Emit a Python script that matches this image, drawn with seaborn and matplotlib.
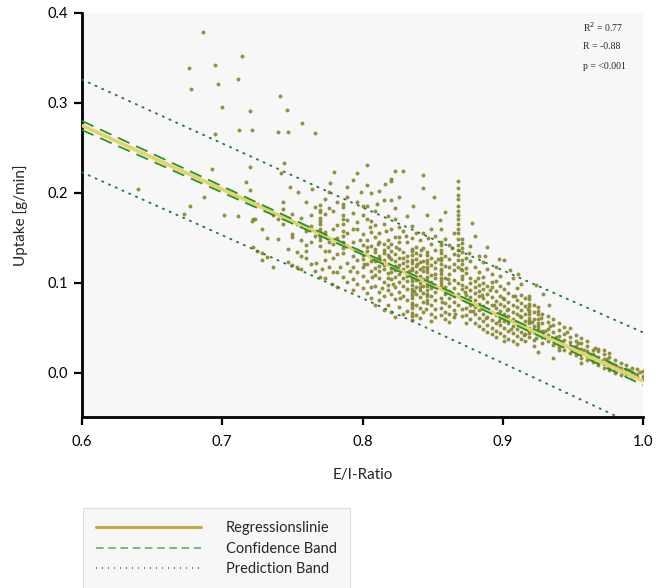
import matplotlib
matplotlib.use("Agg")
import matplotlib.pyplot as plt
from matplotlib.lines import Line2D
import seaborn as sns
import pandas as pd

# --- scattered measurements far above the fit ---
sparse_x = [0.686, 0.676, 0.678, 0.695, 0.714, 0.697, 0.711, 0.700, 0.720, 0.741,
            0.746, 0.757, 0.712, 0.721, 0.740, 0.747, 0.766, 0.695, 0.744, 0.720,
            0.693, 0.742, 0.780, 0.717, 0.720, 0.748, 0.754, 0.764, 0.777, 0.640,
            0.687, 0.677, 0.701, 0.711, 0.721, 0.723, 0.673]
sparse_y = [0.379, 0.339, 0.316, 0.342, 0.352, 0.321, 0.327, 0.296, 0.291, 0.308,
            0.292, 0.278, 0.270, 0.270, 0.268, 0.268, 0.267, 0.265, 0.233, 0.229,
            0.227, 0.222, 0.223, 0.212, 0.203, 0.207, 0.201, 0.204, 0.211, 0.204,
            0.195, 0.185, 0.176, 0.174, 0.169, 0.171, 0.177]

# --- loose measurements between the repeated-ratio columns ---
loose_x = [0.784, 0.791, 0.798, 0.801, 0.805, 0.807, 0.811, 0.814, 0.817, 0.819,
           0.822, 0.824, 0.827, 0.831, 0.833, 0.837, 0.839, 0.842, 0.845, 0.847,
           0.851, 0.854, 0.857, 0.861, 0.864, 0.866, 0.870, 0.873, 0.876, 0.879,
           0.882, 0.885, 0.888, 0.891, 0.894, 0.897, 0.900, 0.903, 0.906, 0.909,
           0.912, 0.915, 0.918, 0.921, 0.924, 0.927, 0.930, 0.934, 0.938, 0.942,
           0.946, 0.950, 0.954, 0.958, 0.962, 0.966, 0.970, 0.974, 0.978, 0.982,
           0.986, 0.990, 0.994, 0.998, 0.760, 0.767, 0.771, 0.775, 0.778, 0.794,
           0.799, 0.810, 0.816, 0.826, 0.836, 0.846, 0.851, 0.855, 0.878, 0.887,
           0.897, 0.905, 0.911, 0.924, 0.929, 0.933]
loose_y = [0.118, 0.113, 0.148, 0.121, 0.162, 0.107, 0.143, 0.094, 0.158, 0.129,
           0.099, 0.140, 0.083, 0.152, 0.113, 0.091, 0.121, 0.137, 0.071, 0.150,
           0.097, 0.127, 0.079, 0.104, 0.139, 0.066, 0.115, 0.090, 0.133, 0.069,
           0.105, 0.087, 0.061, 0.092, 0.075, 0.058, 0.083, 0.070, 0.049, 0.086,
           0.063, 0.042, 0.071, 0.057, 0.039, 0.061, 0.047, 0.052, 0.040, 0.034,
           0.045, 0.027, 0.033, 0.026, 0.021, 0.028, 0.013, 0.016, 0.010, 0.007,
           0.001, 0.003, -0.002, 0.001, 0.135, 0.122, 0.116, 0.150, 0.099, 0.138,
           0.201, 0.188, 0.210, 0.196, 0.185, 0.176, 0.196, 0.170, 0.167, 0.130,
           0.127, 0.114, 0.110, 0.098, 0.088, 0.076]

# --- main cloud, grouped by E/I-Ratio value ---
col_x = [0.722, 0.725, 0.728, 0.732, 0.736, 0.740, 0.743, 0.747, 0.750, 0.753,
         0.756, 0.760, 0.763, 0.766, 0.770, 0.773, 0.776, 0.779, 0.782, 0.786,
         0.789, 0.793, 0.796, 0.800, 0.803, 0.806, 0.809, 0.812, 0.815, 0.818,
         0.820, 0.823, 0.826, 0.829, 0.832, 0.835, 0.838, 0.841, 0.843, 0.846,
         0.849, 0.852, 0.856, 0.859, 0.862, 0.865, 0.868, 0.871, 0.874, 0.877,
         0.880, 0.883, 0.886, 0.889, 0.892, 0.895, 0.898, 0.901, 0.904, 0.907,
         0.910, 0.913, 0.916, 0.919, 0.922, 0.925, 0.928, 0.932, 0.936, 0.940,
         0.944, 0.948, 0.952, 0.956, 0.960, 0.964, 0.968, 0.972, 0.976, 0.980,
         0.984, 0.988, 0.992, 0.996, 1.000]
col_y = [
    [0.171, 0.140],
    [0.136, 0.188],
    [0.133, 0.125, 0.160],
    [0.129, 0.150],
    [0.118, 0.176],
    [0.171, 0.149],
    [0.166, 0.182, 0.190],
    [0.123, 0.138],
    [0.177, 0.154, 0.151, 0.120],
    [0.118, 0.134, 0.165],
    [0.115, 0.130, 0.172, 0.148],
    [0.158, 0.128, 0.190, 0.142],
    [0.145, 0.121, 0.163, 0.175],
    [0.113, 0.152, 0.184],
    [0.187, 0.181, 0.179, 0.172, 0.169, 0.165, 0.160, 0.157, 0.151, 0.148, 0.141, 0.107],
    [0.193, 0.177, 0.157, 0.135, 0.106, 0.125],
    [0.183, 0.135, 0.146, 0.118, 0.201],
    [0.180, 0.143, 0.128, 0.160, 0.112],
    [0.164, 0.132, 0.112, 0.096, 0.150, 0.190],
    [0.188, 0.184, 0.176, 0.171, 0.166, 0.158, 0.152, 0.146, 0.139, 0.133, 0.107],
    [0.196, 0.207, 0.155, 0.122, 0.141, 0.170, 0.101],
    [0.214, 0.178, 0.160, 0.130, 0.118, 0.104, 0.145, 0.092],
    [0.222, 0.190, 0.160, 0.137, 0.112, 0.099, 0.168, 0.126],
    [0.185, 0.175, 0.142, 0.127, 0.118, 0.094, 0.154, 0.131, 0.108],
    [0.231, 0.209, 0.185, 0.171, 0.148, 0.135, 0.121, 0.102, 0.089, 0.140],
    [0.200, 0.169, 0.157, 0.141, 0.129, 0.113, 0.095, 0.083, 0.124],
    [0.180, 0.164, 0.151, 0.134, 0.124, 0.109, 0.097, 0.117, 0.138, 0.075],
    [0.202, 0.155, 0.146, 0.130, 0.119, 0.106, 0.090, 0.128, 0.113, 0.081],
    [0.166, 0.143, 0.137, 0.125, 0.115, 0.101, 0.086, 0.070, 0.120, 0.133, 0.192],
    [0.174, 0.148, 0.131, 0.121, 0.111, 0.098, 0.092, 0.076, 0.140, 0.105],
    [0.216, 0.213, 0.192, 0.160, 0.136, 0.127, 0.117, 0.104, 0.088, 0.068, 0.143, 0.112],
    [0.224, 0.183, 0.171, 0.151, 0.132, 0.124, 0.114, 0.095, 0.082, 0.062, 0.119, 0.107],
    [0.151, 0.138, 0.128, 0.120, 0.110, 0.101, 0.090, 0.073, 0.145, 0.162],
    [0.224, 0.158, 0.134, 0.122, 0.115, 0.106, 0.097, 0.086, 0.066, 0.128],
    [0.174, 0.146, 0.130, 0.119, 0.111, 0.102, 0.093, 0.081, 0.069, 0.124, 0.108],
    [0.138, 0.135, 0.131, 0.126, 0.122, 0.117, 0.114, 0.109, 0.106, 0.102, 0.098,
     0.093, 0.090, 0.087, 0.083, 0.078, 0.075, 0.072, 0.067, 0.063, 0.059, 0.163, 0.150],
    [0.155, 0.127, 0.119, 0.112, 0.103, 0.096, 0.088, 0.076, 0.064, 0.140, 0.133],
    [0.148, 0.131, 0.116, 0.108, 0.100, 0.092, 0.084, 0.072, 0.061, 0.123, 0.095],
    [0.220, 0.205, 0.155, 0.139, 0.124, 0.113, 0.104, 0.097, 0.089, 0.079, 0.068, 0.118],
    [0.134, 0.131, 0.126, 0.122, 0.118, 0.115, 0.112, 0.107, 0.103, 0.100, 0.097,
     0.092, 0.088, 0.085, 0.081, 0.078],
    [0.160, 0.143, 0.120, 0.109, 0.101, 0.094, 0.086, 0.075, 0.065, 0.058, 0.128],
    [0.152, 0.137, 0.117, 0.105, 0.098, 0.090, 0.081, 0.071, 0.062, 0.123, 0.110],
    [0.160, 0.145, 0.142, 0.137, 0.133, 0.128, 0.125, 0.121, 0.116, 0.113, 0.110,
     0.105, 0.102, 0.099, 0.096, 0.083, 0.072, 0.064],
    [0.179, 0.149, 0.119, 0.105, 0.095, 0.088, 0.078, 0.068, 0.060, 0.130],
    [0.142, 0.127, 0.110, 0.100, 0.091, 0.083, 0.074, 0.066, 0.057, 0.118],
    [0.155, 0.132, 0.114, 0.103, 0.094, 0.086, 0.079, 0.070, 0.062, 0.121],
    [0.213, 0.206, 0.198, 0.193, 0.186, 0.180, 0.176, 0.171, 0.165, 0.160, 0.155,
     0.149, 0.142, 0.137, 0.131, 0.125, 0.118, 0.100, 0.088, 0.075],
    [0.149, 0.144, 0.139, 0.134, 0.126, 0.121, 0.114, 0.108, 0.104, 0.098, 0.093,
     0.082, 0.071, 0.063],
    [0.128, 0.111, 0.096, 0.087, 0.080, 0.072, 0.064, 0.055, 0.117],
    [0.141, 0.124, 0.106, 0.092, 0.084, 0.076, 0.069, 0.060, 0.100],
    [0.152, 0.118, 0.102, 0.089, 0.081, 0.073, 0.065, 0.056, 0.095],
    [0.130, 0.112, 0.098, 0.086, 0.077, 0.070, 0.061, 0.052, 0.091],
    [0.123, 0.107, 0.093, 0.083, 0.074, 0.066, 0.058, 0.049, 0.100],
    [0.140, 0.115, 0.097, 0.088, 0.079, 0.071, 0.062, 0.053, 0.045],
    [0.110, 0.095, 0.084, 0.076, 0.068, 0.059, 0.050, 0.043, 0.101],
    [0.118, 0.102, 0.091, 0.080, 0.072, 0.064, 0.056, 0.047, 0.040],
    [0.097, 0.086, 0.077, 0.069, 0.061, 0.053, 0.044, 0.108],
    [0.125, 0.093, 0.082, 0.074, 0.066, 0.058, 0.050, 0.041, 0.035],
    [0.089, 0.079, 0.071, 0.063, 0.055, 0.047, 0.038, 0.100],
    [0.105, 0.085, 0.076, 0.068, 0.060, 0.052, 0.044, 0.036],
    [0.094, 0.081, 0.073, 0.065, 0.057, 0.049, 0.041, 0.032],
    [0.087, 0.078, 0.070, 0.062, 0.054, 0.046, 0.038, 0.099],
    [0.083, 0.074, 0.066, 0.058, 0.050, 0.043, 0.035],
    [0.085, 0.082, 0.077, 0.074, 0.069, 0.066, 0.061, 0.058, 0.055, 0.050, 0.047, 0.044, 0.040],
    [0.075, 0.068, 0.060, 0.052, 0.045, 0.037, 0.030],
    [0.073, 0.069, 0.065, 0.060, 0.056, 0.052, 0.049, 0.044, 0.023],
    [0.066, 0.055, 0.047, 0.040, 0.033],
    [0.057, 0.049, 0.042, 0.035, 0.063],
    [0.053, 0.045, 0.038, 0.031, 0.060, 0.017],
    [0.048, 0.041, 0.035, 0.029, 0.025, 0.055],
    [0.043, 0.037, 0.031, 0.026, 0.051],
    [0.040, 0.034, 0.028, 0.022, 0.050],
    [0.036, 0.030, 0.025, 0.020, 0.042],
    [0.033, 0.027, 0.022, 0.017, 0.039, 0.011],
    [0.030, 0.024, 0.019, 0.014, 0.036],
    [0.026, 0.021, 0.016, 0.012],
    [0.024, 0.018, 0.013, 0.009, 0.027],
    [0.021, 0.015, 0.010, 0.006, 0.025],
    [0.018, 0.012, 0.007, 0.003, 0.022],
    [0.014, 0.009, 0.004, 0.000],
    [0.011, 0.006, 0.002, -0.002],
    [0.009, 0.004, -0.001],
    [0.006, 0.001, -0.003],
    [0.004, -0.001, -0.005],
    [0.002, -0.003, -0.007],
]

# --- fitted line with confidence and prediction bands ---
band_x = [0.60, 0.70, 0.80, 0.90, 1.00]
reg_y = [0.275, 0.204, 0.133, 0.062, -0.009]
conf_lo = [0.270, 0.2005, 0.1315, 0.0600, -0.0135]
conf_hi = [0.280, 0.2075, 0.1345, 0.0640, -0.0045]
pred_lo = [0.223, 0.153, 0.083, 0.011, -0.062]
pred_hi = [0.326, 0.255, 0.184, 0.114, 0.045]

stats_lines = ["R$^2$ = 0.77", "R = -0.88", "p = <0.001"]
x_ticks = [0.6, 0.7, 0.8, 0.9, 1.0]
y_ticks = [0.0, 0.1, 0.2, 0.3, 0.4]

# assemble points
xs = list(sparse_x) + list(loose_x)
ys = list(sparse_y) + list(loose_y)
for cx, cys in zip(col_x, col_y):
    xs.extend([cx] * len(cys))
    ys.extend(cys)
points = pd.DataFrame({"E/I-Ratio": xs, "Uptake": ys})
bands = pd.DataFrame({"x": band_x, "reg": reg_y, "clo": conf_lo, "chi": conf_hi,
                      "plo": pred_lo, "phi": pred_hi})

sns.set_style("ticks")
plt.rcParams["font.family"] = ["Lato", "DejaVu Sans"]

fig = plt.figure(figsize=(6.71, 5.88), dpi=100)
ax = fig.add_axes([82 / 671, 1 - 417 / 588, (643 - 82) / 671, (417 - 13) / 588])
ax.set_facecolor("#f7f7f7")

sns.scatterplot(data=points, x="E/I-Ratio", y="Uptake", ax=ax, s=8,
                color="#86862c", linewidth=0, alpha=0.9, zorder=2)

sns.lineplot(data=bands, x="x", y="reg", ax=ax, color="#e3d46a", linewidth=2.6, zorder=3)
for col in ("clo", "chi"):
    sns.lineplot(data=bands, x="x", y=col, ax=ax, color="#2e8f2e", linewidth=1.3,
                 zorder=4)
    ax.lines[-1].set_dashes([7, 4])
for col in ("plo", "phi"):
    sns.lineplot(data=bands, x="x", y=col, ax=ax, color="#2a7a40", linewidth=1.4,
                 zorder=4)
    ax.lines[-1].set_dashes([0.6, 3.2])
    ax.lines[-1].set_dash_capstyle("round")

ax.set_xlim(0.6, 1.0)
ax.set_ylim(-0.049, 0.40)
ax.set_xticks(x_ticks)
ax.set_xticklabels([f"{t:.1f}" for t in x_ticks], fontsize=10.5)
ax.set_yticks(y_ticks)
ax.set_yticklabels([f"{t:.1f}" for t in y_ticks], fontsize=10.5)
ax.set_xlabel("E/I-Ratio", fontsize=11, labelpad=14)
ax.set_ylabel("Uptake [g/min]", fontsize=11, labelpad=14)
for side in ("top", "right"):
    ax.spines[side].set_visible(False)
for side in ("left", "bottom"):
    ax.spines[side].set_linewidth(2.0)
    ax.spines[side].set_color("black")
ax.tick_params(axis="both", direction="out", length=6, width=1.6, colors="black")
ax.tick_params(axis="x", pad=7)
ax.tick_params(axis="y", pad=4)

for i, line in enumerate(stats_lines):
    ax.text(0.893, 0.965 - i * 0.049, line, transform=ax.transAxes, fontsize=7,
            family=["Liberation Serif", "DejaVu Serif"], va="center", ha="left")

handles = [
    Line2D([], [], color="#c4ac3c", linewidth=2.2),
    Line2D([], [], color="#5aa65a", linewidth=1.1, dashes=[5, 3]),
    Line2D([], [], color="#2a7a40", linewidth=1.2, dashes=[0.6, 3.0]),
]
labels = ["Regressionslinie", "Confidence Band", "Prediction Band"]
leg = fig.legend(handles, labels, loc="upper left",
                 bbox_to_anchor=(83 / 671, 1 - 508 / 588), borderaxespad=0,
                 fontsize=10.5, handlelength=7.2, handletextpad=1.7, labelspacing=0.45,
                 borderpad=0.9, frameon=True, fancybox=False, framealpha=1)
leg.get_frame().set_facecolor("#f7f7f7")
leg.get_frame().set_edgecolor("#dcdcdc")
leg.get_frame().set_linewidth(0.8)

fig.savefig("out.png", dpi=100)
